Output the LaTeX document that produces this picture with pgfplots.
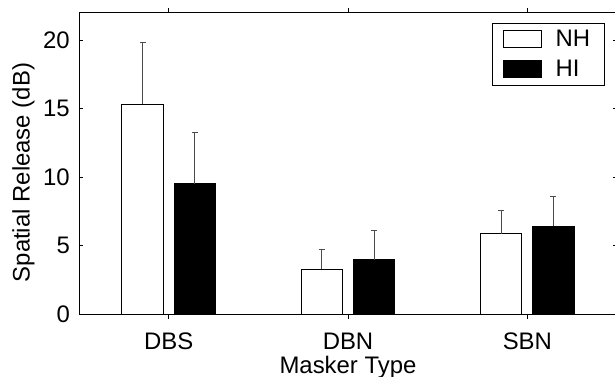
\documentclass[border=0pt]{standalone}
\usepackage{fontspec}
\setmainfont{Liberation Sans}
\usepackage{pgfplots}
\pgfplotsset{compat=1.18}
\begin{document}
\begin{tikzpicture}
\useasboundingbox (-79bp,-62.7bp) rectangle (536bp,314.3bp);
\begin{axis}[
 at={(0,0)}, anchor=south west,
 scale only axis, width=538bp, height=301.6bp,
 xmin=0.5, xmax=3.5, ymin=0, ymax=22,
 xtick={1,2,3}, xticklabels={DBS,DBN,SBN},
 ytick={0,5,10,15,20},
 tick align=inside, major tick length=4.5bp,
 xtick pos=both, ytick pos=both,
 ybar=11bp, bar width=41.3bp,
 axis line style={line width=0.8bp},
 every tick/.style={black, line width=0.6bp},
 tick label style={font=\fontsize{24}{28}\selectfont},
 label style={font=\fontsize{24}{28}\selectfont},
 /pgf/number format/assume math mode=true,
 yticklabel style={anchor=east, inner sep=0pt, xshift=-9bp},
 xticklabel style={anchor=base, inner sep=0pt, yshift=-30.5bp},
 xlabel={Masker Type}, ylabel={Spatial Release (dB)},
 xlabel style={at={(axis description cs:0.5,0)}, anchor=base, inner sep=0pt, yshift=-59bp},
 ylabel style={at={(axis description cs:-0.1032,0.47)}, rotate=0, anchor=center, inner sep=0pt},
 legend image code/.code={\draw[#1, line width=0.8bp] (0bp,-8.5bp) rectangle (38bp,8.5bp);},
 legend style={at={(axis description cs:0.977,0.9668)}, anchor=north east, draw=black, line width=0.8bp,
   font=\fontsize{24}{28}\selectfont, inner xsep=10bp, inner ysep=1bp, row sep=0pt,
   nodes={inner xsep=4bp, inner ysep=6bp},
   /tikz/every odd column/.style={column sep=10bp}},
 legend cell align=left,
]
\addplot[draw=black, fill=white, line width=0.8bp,
  error bars/.cd, y dir=plus, y explicit, error mark=-,
  error bar style={black!70, line width=1bp},
  error mark options={black!70, rotate=90, mark size=3bp, line width=1bp}]
 coordinates {(1,15.33) +- (0,4.52) (2,3.28) +- (0,1.44) (3,5.89) +- (0,1.70)};
\addplot[draw=black, fill=black, line width=0.8bp,
  error bars/.cd, y dir=plus, y explicit, error mark=-,
  error bar style={black!70, line width=1bp},
  error mark options={black!70, rotate=90, mark size=3bp, line width=1bp}]
 coordinates {(1,9.54) +- (0,3.74) (2,3.99) +- (0,2.14) (3,6.42) +- (0,2.19)};
\legend{NH,HI}
\end{axis}
\end{tikzpicture}
\end{document}
